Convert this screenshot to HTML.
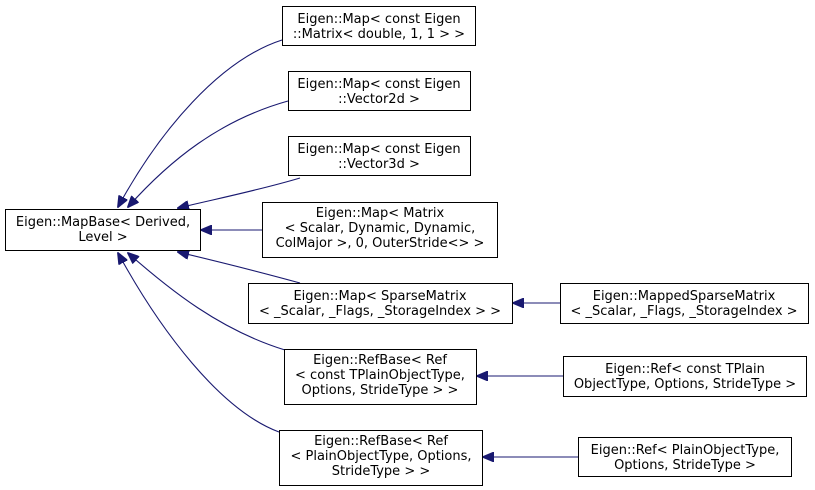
<!DOCTYPE html>
<html><head><meta charset="utf-8"><style>
html,body{margin:0;padding:0;background:#fff;width:815px;height:490px;overflow:hidden}
text{font-family:"DejaVu Sans","Liberation Sans",sans-serif;font-size:13px;fill:#000}
</style></head><body>
<svg width="815" height="490" viewBox="0 0 815 490" xmlns="http://www.w3.org/2000/svg">
<defs><marker id="a" markerWidth="12" markerHeight="10" refX="11" refY="5" orient="auto" markerUnits="userSpaceOnUse"><path d="M0,0 L12,5 L0,10 Z" fill="#191970" stroke="#191970"/></marker></defs>
<g fill="none" stroke="#191970" stroke-width="1.1">
<path d="M282,40 C220,60 160,130 118,207" marker-end="url(#a)"/>
<path d="M288,101 C220,120 170,160 128,207" marker-end="url(#a)"/>
<path d="M300,178 C260,190 220,198 178,208" marker-end="url(#a)"/>
<path d="M262,230 L201,230" marker-end="url(#a)"/>
<path d="M300,283 C260,272 220,262 178,252" marker-end="url(#a)"/>
<path d="M285,350 C220,330 170,290 128,253" marker-end="url(#a)"/>
<path d="M279,432 C220,410 160,330 118,253" marker-end="url(#a)"/>
<path d="M560,303 L513,303" marker-end="url(#a)"/>
<path d="M563,376 L477,376" marker-end="url(#a)"/>
<path d="M578,457 L483,457" marker-end="url(#a)"/>
</g>
<g fill="#fff" stroke="#000" stroke-width="1">
<rect x="5.5" y="209.5" width="195" height="41"/>
<rect x="282.5" y="6.5" width="193" height="39"/>
<rect x="288.5" y="71.5" width="182" height="39"/>
<rect x="288.5" y="136.5" width="182" height="39"/>
<rect x="262.5" y="202.5" width="235" height="55"/>
<rect x="248.5" y="283.5" width="264" height="40"/>
<rect x="560.5" y="283.5" width="248" height="40"/>
<rect x="284.5" y="349.5" width="192" height="55"/>
<rect x="563.5" y="356.5" width="243" height="40"/>
<rect x="279.5" y="430.5" width="203" height="55"/>
<rect x="578.5" y="437.5" width="213" height="39"/>
</g>
<g text-anchor="middle">
<text x="103" y="226">Eigen::MapBase&lt; Derived,</text><text x="103" y="241">Level &gt;</text>
<text x="379" y="23">Eigen::Map&lt; const Eigen</text><text x="379" y="38">::Matrix&lt; double, 1, 1 &gt; &gt;</text>
<text x="379" y="88">Eigen::Map&lt; const Eigen</text><text x="379" y="103">::Vector2d &gt;</text>
<text x="379" y="153">Eigen::Map&lt; const Eigen</text><text x="379" y="168">::Vector3d &gt;</text>
<text x="380" y="217">Eigen::Map&lt; Matrix</text><text x="380" y="232">&lt; Scalar, Dynamic, Dynamic,</text><text x="380" y="247">ColMajor &gt;, 0, OuterStride&lt;&gt; &gt;</text>
<text x="380" y="300">Eigen::Map&lt; SparseMatrix</text><text x="380" y="315">&lt; _Scalar, _Flags, _StorageIndex &gt; &gt;</text>
<text x="684" y="300">Eigen::MappedSparseMatrix</text><text x="684" y="315">&lt; _Scalar, _Flags, _StorageIndex &gt;</text>
<text x="380" y="364">Eigen::RefBase&lt; Ref</text><text x="380" y="379">&lt; const TPlainObjectType,</text><text x="380" y="394">Options, StrideType &gt; &gt;</text>
<text x="685" y="373">Eigen::Ref&lt; const TPlain</text><text x="685" y="388">ObjectType, Options, StrideType &gt;</text>
<text x="381" y="445">Eigen::RefBase&lt; Ref</text><text x="381" y="460">&lt; PlainObjectType, Options,</text><text x="381" y="475">StrideType &gt; &gt;</text>
<text x="685" y="454">Eigen::Ref&lt; PlainObjectType,</text><text x="685" y="469">Options, StrideType &gt;</text>
</g>
</svg>
</body></html>
